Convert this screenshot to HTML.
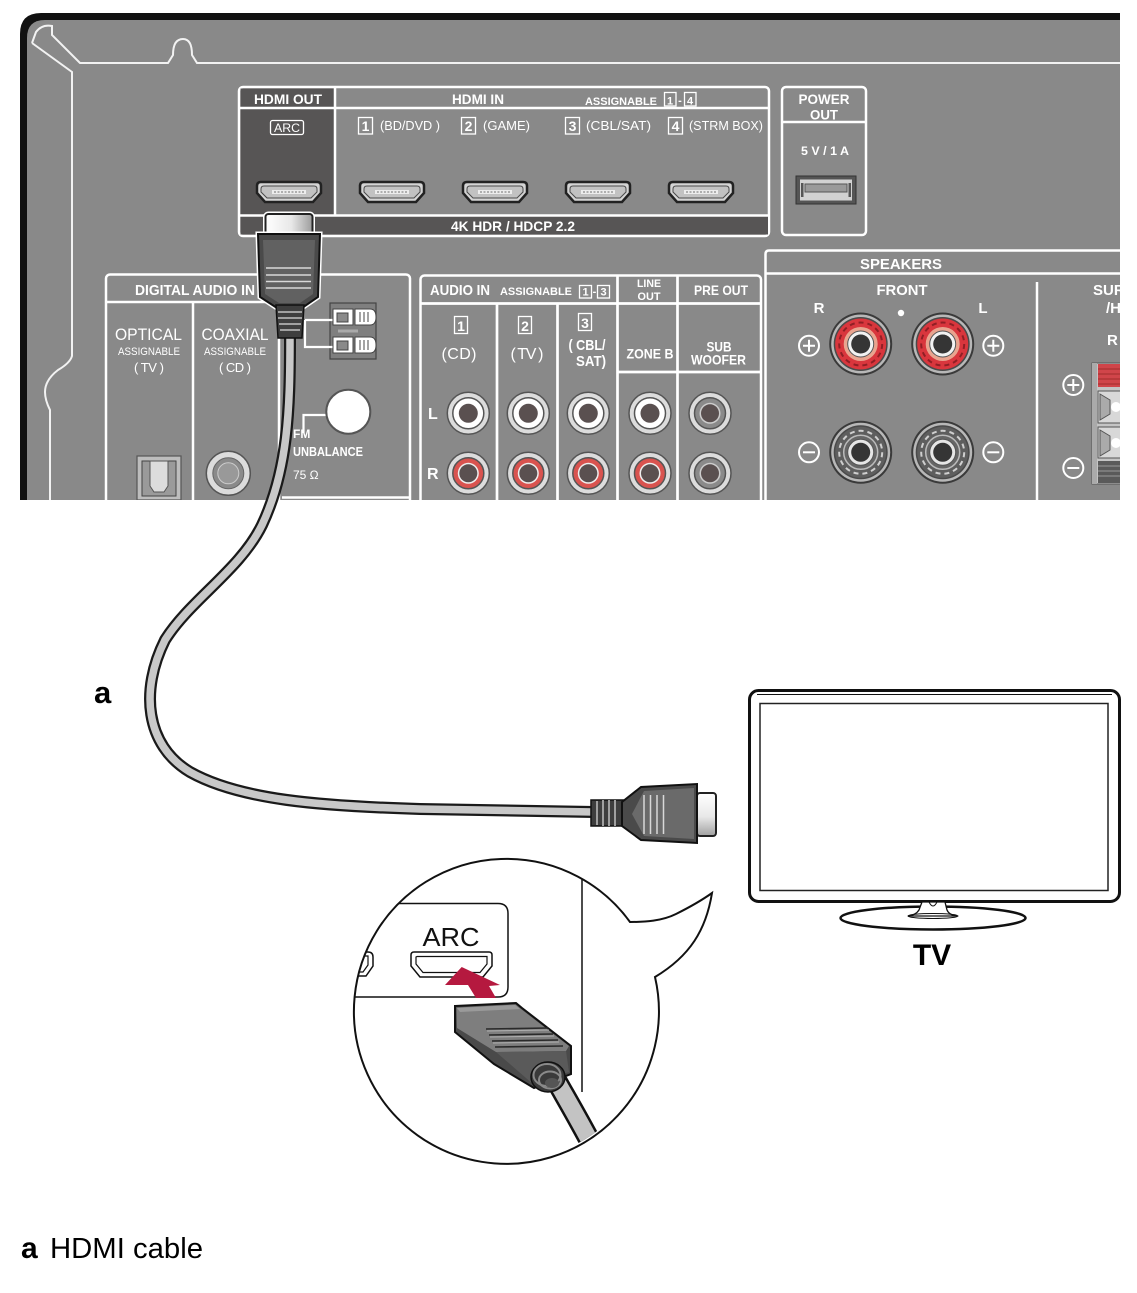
<!DOCTYPE html>
<html><head><meta charset="utf-8">
<style>
html,body{margin:0;padding:0;background:#fff;}
svg{display:block;}
text{font-family:"Liberation Sans",Arial,sans-serif;}
</style></head><body>
<svg width="1137" height="1293" viewBox="0 0 1137 1293" xmlns="http://www.w3.org/2000/svg">
<defs>
<clipPath id="pc"><rect x="0" y="0" width="1120" height="500"/></clipPath>
<clipPath id="cc"><circle cx="506" cy="1010" r="151.5"/></clipPath>
<linearGradient id="metalH" x1="0" y1="0" x2="1" y2="0"><stop offset="0" stop-color="#ffffff"/><stop offset="0.55" stop-color="#e8e8e8"/><stop offset="1" stop-color="#9c9c9c"/></linearGradient>
<linearGradient id="metalV" x1="0" y1="0" x2="0" y2="1"><stop offset="0" stop-color="#ffffff"/><stop offset="0.55" stop-color="#e8e8e8"/><stop offset="1" stop-color="#a0a0a0"/></linearGradient>
<g id="hdmi">
 <path d="M4,0 H60 Q64,0 64,4 V11 L56,20 H8 L0,11 V4 Q0,0 4,0 Z" fill="#d4d4d4" stroke="#222" stroke-width="2.5"/>
 <path d="M7,4 H57 Q60,4 60,7 V10 L54,16 H10 L4,10 V7 Q4,4 7,4 Z" fill="#c2c2c2" stroke="#4a4a4a" stroke-width="1"/>
 <rect x="15" y="8" width="34" height="4" fill="#ededed"/>
 <line x1="17" y1="10" x2="47" y2="10" stroke="#9a9a9a" stroke-width="1.5" stroke-dasharray="2 1.5"/>
</g>
<g id="postR">
 <circle r="31.5" fill="#3a3a3a"/>
 <circle r="29.5" fill="#b8b8b8"/>
 <circle r="27" fill="#4a4a4a"/>
 <circle r="25.5" fill="#d9363d"/>
 <circle r="21.5" fill="none" stroke="#8f1f25" stroke-width="2" stroke-dasharray="5 4"/>
 <circle r="17" fill="#e9a48f"/>
 <circle r="13" fill="#f2f2f2" stroke="#555" stroke-width="1"/>
 <circle r="9.5" fill="#353535"/>
</g>
<g id="postB">
 <circle r="31.5" fill="#3a3a3a"/>
 <circle r="29.5" fill="#b8b8b8"/>
 <circle r="27" fill="#4a4a4a"/>
 <circle r="25.5" fill="#5e5e5e"/>
 <circle r="21.5" fill="none" stroke="#cfcfcf" stroke-width="2" stroke-dasharray="5 4"/>
 <circle r="17" fill="#666" stroke="#bbb" stroke-width="1.5"/>
 <circle r="13" fill="#e6e6e6" stroke="#555" stroke-width="1"/>
 <circle r="9.5" fill="#353535"/>
</g>
<g id="rcaW"><circle r="21" fill="#dcdcdc" stroke="#555" stroke-width="1.5"/><circle r="15.5" fill="#fff" stroke="#555" stroke-width="1.5"/><circle r="9.5" fill="#5a5050"/></g>
<g id="rcaR"><circle r="21" fill="#dcdcdc" stroke="#555" stroke-width="1.5"/><circle r="15.5" fill="#d9534f" stroke="#555" stroke-width="1.5"/><circle r="10.5" fill="#eee"/><circle r="9" fill="#5a5050"/></g>
<g id="rcaG"><circle r="21" fill="#dcdcdc" stroke="#555" stroke-width="1.5"/><circle r="15.5" fill="#8a8a8a" stroke="#555" stroke-width="1.5"/><circle r="10.5" fill="#ccc"/><circle r="9" fill="#5a5050"/></g>
<g id="plus"><circle r="10" fill="none" stroke="#fff" stroke-width="2"/><path d="M-6,0H6M0,-6V6" stroke="#fff" stroke-width="2"/></g>
<g id="minus"><circle r="10" fill="none" stroke="#fff" stroke-width="2"/><path d="M-6,0H6" stroke="#fff" stroke-width="2"/></g>
</defs>

<rect width="1137" height="1293" fill="#fff"/>

<!-- ============ PANEL ============ -->
<g clip-path="url(#pc)">
 <path d="M20,500 V34 Q20,13 41,13 H1120 V500 Z" fill="#111"/>
 <path d="M27,500 V38 Q27,20 45,20 H1120 V500 Z" fill="#898989"/>
 <g fill="none" stroke="#f2f2f2" stroke-width="2">
  <path d="M32,43 L36,32 Q42,24 52,26 L52,35 L80,63 L168,63 L173,55 Q173,39 183,39 Q192,39 192,55 L197,63 L1120,63"/>
  <path d="M32,43 L72,72 L72,356 Q70,363 58,370 Q45,380 45,392 Q45,400 50,410 L50,500"/>
 </g>

 <!-- HDMI box -->
 <rect x="239" y="87" width="530" height="149" rx="4" fill="#898989" stroke="#fff" stroke-width="2.5"/>
 <rect x="240.5" y="88.5" width="94.5" height="127" fill="#575555"/>
 <rect x="240.5" y="216" width="527.5" height="18.5" fill="#575555"/>
 <g stroke="#fff" stroke-width="2.5">
  <line x1="239" y1="108" x2="769" y2="108"/>
  <line x1="335" y1="87" x2="335" y2="216"/>
  <line x1="239" y1="215.5" x2="769" y2="215.5"/>
 </g>
 <g fill="#fff">
  <text x="288" y="104" font-size="14" font-weight="bold" text-anchor="middle" textLength="68" lengthAdjust="spacingAndGlyphs">HDMI OUT</text>
  <text x="478" y="104" font-size="14" font-weight="bold" text-anchor="middle" textLength="52" lengthAdjust="spacingAndGlyphs">HDMI IN</text>
  <text x="585" y="105" font-size="11" font-weight="bold" textLength="72" lengthAdjust="spacingAndGlyphs">ASSIGNABLE</text>
  <text x="670" y="104.5" font-size="11" font-weight="bold" text-anchor="middle">1</text>
  <text x="680" y="104" font-size="11" font-weight="bold" text-anchor="middle">-</text>
  <text x="690" y="104.5" font-size="11" font-weight="bold" text-anchor="middle">4</text>
  <text x="287" y="132" font-size="12" text-anchor="middle" textLength="26" lengthAdjust="spacingAndGlyphs">ARC</text>
  <text x="365.5" y="131" font-size="14" font-weight="bold" text-anchor="middle">1</text>
  <text x="380" y="130" font-size="13" textLength="60" lengthAdjust="spacingAndGlyphs">(BD/DVD )</text>
  <text x="468.5" y="131" font-size="14" font-weight="bold" text-anchor="middle">2</text>
  <text x="483" y="130" font-size="13" textLength="47" lengthAdjust="spacingAndGlyphs">(GAME)</text>
  <text x="572.5" y="131" font-size="14" font-weight="bold" text-anchor="middle">3</text>
  <text x="586" y="130" font-size="13" textLength="65" lengthAdjust="spacingAndGlyphs">(CBL/SAT)</text>
  <text x="675.5" y="131" font-size="14" font-weight="bold" text-anchor="middle">4</text>
  <text x="689" y="130" font-size="13" textLength="74" lengthAdjust="spacingAndGlyphs">(STRM BOX)</text>
  <text x="513" y="231" font-size="14" font-weight="bold" text-anchor="middle" textLength="124" lengthAdjust="spacingAndGlyphs">4K HDR / HDCP 2.2</text>
 </g>
 <g fill="none" stroke="#fff" stroke-width="1.3">
  <rect x="664.5" y="92.5" width="11.5" height="13.5"/>
  <rect x="684.5" y="92.5" width="11.5" height="13.5"/>
  <rect x="270.5" y="120.5" width="33" height="14" rx="2"/>
  <rect x="358.5" y="117.5" width="14" height="16.5"/>
  <rect x="461.5" y="117.5" width="14" height="16.5"/>
  <rect x="565.5" y="117.5" width="14" height="16.5"/>
  <rect x="668.5" y="117.5" width="14" height="16.5"/>
 </g>
 <use href="#hdmi" x="257" y="182"/>
 <use href="#hdmi" x="360" y="182"/>
 <use href="#hdmi" x="463" y="182"/>
 <use href="#hdmi" x="566" y="182"/>
 <use href="#hdmi" x="669" y="182"/>

 <!-- POWER OUT -->
 <rect x="782" y="87" width="84" height="148" rx="4" fill="none" stroke="#fff" stroke-width="2.5"/>
 <line x1="782" y1="122" x2="866" y2="122" stroke="#fff" stroke-width="2.5"/>
 <g fill="#fff" font-weight="bold" text-anchor="middle">
  <text x="824" y="104" font-size="14" textLength="51" lengthAdjust="spacingAndGlyphs">POWER</text>
  <text x="824" y="119.5" font-size="14" textLength="28" lengthAdjust="spacingAndGlyphs">OUT</text>
  <text x="825" y="155" font-size="12" textLength="48" lengthAdjust="spacingAndGlyphs">5 V / 1 A</text>
 </g>
 <rect x="796" y="176" width="60" height="28" fill="#555" stroke="#333" stroke-width="1"/>
 <rect x="800" y="179.5" width="52" height="21" fill="#d2d2d2"/>
 <rect x="805" y="184" width="42" height="8" fill="#9a9a9a" stroke="#555" stroke-width="1"/>
 <rect x="801" y="183" width="2.5" height="14" fill="#555"/>
 <rect x="848.5" y="183" width="2.5" height="14" fill="#555"/>

 <!-- SPEAKERS -->
 <path d="M765.5,500 V254 Q765.5,250.5 769,250.5 H1120" fill="none" stroke="#fff" stroke-width="2.5"/>
 <line x1="766" y1="273.5" x2="1120" y2="273.5" stroke="#fff" stroke-width="2.5"/>
 <line x1="1037" y1="282" x2="1037" y2="500" stroke="#fff" stroke-width="2.5"/>
 <g fill="#fff" font-weight="bold">
  <text x="901" y="269" font-size="15" text-anchor="middle" textLength="82" lengthAdjust="spacingAndGlyphs">SPEAKERS</text>
  <text x="902" y="295" font-size="15" text-anchor="middle" textLength="51" lengthAdjust="spacingAndGlyphs">FRONT</text>
  <text x="819" y="313" font-size="15" text-anchor="middle">R</text>
  <text x="983" y="313" font-size="15" text-anchor="middle">L</text>
  <text x="1093" y="295" font-size="15">SUR</text>
  <text x="1106" y="313" font-size="15">/H</text>
  <text x="1107" y="345" font-size="15">R</text>
 </g>
 <circle cx="901" cy="313" r="3.2" fill="#fff"/>
 <use href="#postR" x="860.7" y="344"/>
 <use href="#postR" x="942.7" y="344"/>
 <use href="#postB" x="860.7" y="452.3"/>
 <use href="#postB" x="942.7" y="452.3"/>
 <use href="#plus" x="809" y="345.7"/>
 <use href="#plus" x="993.3" y="345.7"/>
 <use href="#minus" x="809" y="452.3"/>
 <use href="#minus" x="993.3" y="452.3"/>
 <use href="#plus" x="1073.3" y="385"/>
 <use href="#minus" x="1073.3" y="468"/>
 <rect x="1092" y="363" width="32" height="121" fill="#c4c4c4" stroke="#555" stroke-width="1"/>
 <rect x="1092" y="363" width="5" height="121" fill="#aaa"/>
 <rect x="1098" y="364" width="26" height="23" fill="#d0454a"/>
 <g stroke="#a33" stroke-width="1.2"><line x1="1098" y1="369" x2="1124" y2="369"/><line x1="1098" y1="374" x2="1124" y2="374"/><line x1="1098" y1="379" x2="1124" y2="379"/><line x1="1098" y1="384" x2="1124" y2="384"/></g>
 <rect x="1098" y="391" width="26" height="32" fill="#d8d8d8" stroke="#555"/>
 <path d="M1100,394 L1110,400 V414 L1100,420 Z" fill="#aaa" stroke="#555"/>
 <circle cx="1116" cy="407" r="5" fill="#fff"/>
 <rect x="1098" y="427" width="26" height="31" fill="#d8d8d8" stroke="#555"/>
 <path d="M1100,430 L1110,436 V450 L1100,456 Z" fill="#aaa" stroke="#555"/>
 <circle cx="1116" cy="443" r="5" fill="#fff"/>
 <rect x="1098" y="461" width="26" height="22" fill="#5a5a5a"/>
 <g stroke="#999" stroke-width="1"><line x1="1098" y1="466" x2="1124" y2="466"/><line x1="1098" y1="471" x2="1124" y2="471"/><line x1="1098" y1="476" x2="1124" y2="476"/></g>

 <!-- AUDIO IN -->
 <rect x="420.5" y="275.5" width="340.5" height="240" rx="4" fill="none" stroke="#fff" stroke-width="2.5"/>
 <g stroke="#fff" stroke-width="2.7">
  <line x1="420" y1="303.5" x2="761" y2="303.5"/>
  <line x1="497" y1="303" x2="497" y2="500"/>
  <line x1="557.5" y1="303" x2="557.5" y2="500"/>
  <line x1="617.5" y1="275" x2="617.5" y2="500"/>
  <line x1="677.5" y1="275" x2="677.5" y2="500"/>
  <line x1="617.5" y1="372" x2="761" y2="372"/>
 </g>
 <g fill="#fff">
  <text x="430" y="295" font-size="15" font-weight="bold" textLength="60" lengthAdjust="spacingAndGlyphs">AUDIO IN</text>
  <text x="500" y="295" font-size="11" font-weight="bold" textLength="72" lengthAdjust="spacingAndGlyphs">ASSIGNABLE</text>
  <text x="585.5" y="295.5" font-size="11" font-weight="bold" text-anchor="middle">1</text>
  <text x="594.5" y="295" font-size="11" font-weight="bold" text-anchor="middle">-</text>
  <text x="603.5" y="295.5" font-size="11" font-weight="bold" text-anchor="middle">3</text>
  <text x="649" y="287" font-size="11" font-weight="bold" text-anchor="middle" textLength="24" lengthAdjust="spacingAndGlyphs">LINE</text>
  <text x="649" y="300" font-size="11" font-weight="bold" text-anchor="middle" textLength="23" lengthAdjust="spacingAndGlyphs">OUT</text>
  <text x="721" y="295" font-size="14" font-weight="bold" text-anchor="middle" textLength="54" lengthAdjust="spacingAndGlyphs">PRE OUT</text>
  <text x="461" y="331" font-size="14" font-weight="bold" text-anchor="middle">1</text>
  <text x="525" y="331" font-size="14" font-weight="bold" text-anchor="middle">2</text>
  <text x="585" y="328" font-size="14" font-weight="bold" text-anchor="middle">3</text>
  <text x="459" y="359" font-size="16" text-anchor="middle" textLength="35" lengthAdjust="spacing">(CD)</text>
  <text x="527" y="359" font-size="16" text-anchor="middle" textLength="33" lengthAdjust="spacing">( TV )</text>
  <text x="587" y="350" font-size="15" font-weight="bold" text-anchor="middle" textLength="37" lengthAdjust="spacingAndGlyphs">( CBL/</text>
  <text x="591" y="366" font-size="15" font-weight="bold" text-anchor="middle" textLength="30" lengthAdjust="spacingAndGlyphs">SAT)</text>
  <text x="650" y="358.5" font-size="14" font-weight="bold" text-anchor="middle" textLength="47" lengthAdjust="spacingAndGlyphs">ZONE B</text>
  <text x="719" y="351.5" font-size="14" font-weight="bold" text-anchor="middle" textLength="25" lengthAdjust="spacingAndGlyphs">SUB</text>
  <text x="718.5" y="364.5" font-size="14" font-weight="bold" text-anchor="middle" textLength="55" lengthAdjust="spacingAndGlyphs">WOOFER</text>
  <text x="428" y="419" font-size="16" font-weight="bold">L</text>
  <text x="427" y="479" font-size="16" font-weight="bold">R</text>
 </g>
 <g fill="none" stroke="#fff" stroke-width="1.3">
  <rect x="579.5" y="285.5" width="12" height="12.5"/>
  <rect x="597.5" y="285.5" width="12" height="12.5"/>
  <rect x="454.5" y="316.5" width="13" height="17"/>
  <rect x="518.5" y="316.5" width="13" height="17"/>
  <rect x="578.5" y="313.5" width="13" height="17"/>
 </g>
 <use href="#rcaW" x="468.3" y="413.3"/>
 <use href="#rcaW" x="528.3" y="413.3"/>
 <use href="#rcaW" x="588.3" y="413.3"/>
 <use href="#rcaW" x="650" y="413.3"/>
 <use href="#rcaG" x="710" y="413.3"/>
 <use href="#rcaR" x="468.3" y="473.3"/>
 <use href="#rcaR" x="528.3" y="473.3"/>
 <use href="#rcaR" x="588.3" y="473.3"/>
 <use href="#rcaR" x="650" y="473.3"/>
 <use href="#rcaG" x="710" y="473.3"/>

 <!-- DIGITAL AUDIO IN -->
 <rect x="106" y="274.5" width="304" height="240" rx="4" fill="none" stroke="#fff" stroke-width="2.5"/>
 <g stroke="#fff" stroke-width="2.5">
  <line x1="106" y1="302" x2="282" y2="302"/>
  <line x1="193" y1="302" x2="193" y2="500"/>
  <line x1="279" y1="302" x2="279" y2="500"/>
  <line x1="282" y1="497.5" x2="410" y2="497.5"/>
 </g>
 <g fill="#fff">
  <text x="195" y="295" font-size="15" font-weight="bold" text-anchor="middle" textLength="120" lengthAdjust="spacingAndGlyphs">DIGITAL AUDIO IN</text>
  <text x="148.5" y="340" font-size="17" text-anchor="middle" textLength="67" lengthAdjust="spacingAndGlyphs">OPTICAL</text>
  <text x="149" y="355" font-size="11" text-anchor="middle" textLength="62" lengthAdjust="spacingAndGlyphs">ASSIGNABLE</text>
  <text x="149" y="372" font-size="13" text-anchor="middle" textLength="30" lengthAdjust="spacing">( TV )</text>
  <text x="235" y="340" font-size="17" text-anchor="middle" textLength="67" lengthAdjust="spacingAndGlyphs">COAXIAL</text>
  <text x="235" y="355" font-size="11" text-anchor="middle" textLength="62" lengthAdjust="spacingAndGlyphs">ASSIGNABLE</text>
  <text x="235" y="372" font-size="13" text-anchor="middle" textLength="32" lengthAdjust="spacing">( CD )</text>
  <text x="293" y="438" font-size="12" font-weight="bold">FM</text>
  <text x="293" y="456" font-size="13" font-weight="bold" textLength="70" lengthAdjust="spacingAndGlyphs">UNBALANCE</text>
  <text x="293" y="479" font-size="12">75 Ω</text>
 </g>
 <rect x="137" y="456" width="44" height="44" fill="#bdbdbd" stroke="#555" stroke-width="1.2"/>
 <rect x="142" y="461" width="34" height="35" fill="#9a9a9a" stroke="#444" stroke-width="1"/>
 <path d="M150,461 H168 V486 L164,492 H154 L150,486 Z" fill="#dcdcdc" stroke="#555" stroke-width="1"/>
 <circle cx="228.3" cy="473.3" r="22" fill="#dcdcdc" stroke="#555" stroke-width="1.5"/>
 <circle cx="228.3" cy="473.3" r="15.5" fill="#8a8a8a" stroke="#666" stroke-width="1"/>
 <circle cx="228.3" cy="473.3" r="10.5" fill="#999" stroke="#ccc" stroke-width="1"/>
 <rect x="330" y="303" width="46" height="56" fill="#7f7f7f" stroke="#444" stroke-width="1.2"/>
 <path d="M305,320 H333 M305,320 V347 H333" fill="none" stroke="#fff" stroke-width="2.2"/>
 <rect x="333" y="309" width="20" height="16" fill="#fff" stroke="#444"/>
 <rect x="337" y="313" width="11" height="9" fill="#8a8a8a" stroke="#444"/>
 <path d="M355,309 H370 Q376,309 376,317 Q376,325 370,325 H355 Z" fill="#fff" stroke="#444"/>
 <path d="M360,312V322 M364,312V322 M368,312V322" stroke="#666" stroke-width="1.2"/>
 <rect x="333" y="337" width="20" height="16" fill="#fff" stroke="#444"/>
 <rect x="337" y="341" width="11" height="9" fill="#8a8a8a" stroke="#444"/>
 <path d="M355,337 H370 Q376,337 376,345 Q376,353 370,353 H355 Z" fill="#fff" stroke="#444"/>
 <path d="M360,340V350 M364,340V350 M368,340V350" stroke="#666" stroke-width="1.2"/>
 <rect x="338" y="329.5" width="20" height="3" fill="#aaa"/>
 <path d="M303.5,433 V415 H327" fill="none" stroke="#fff" stroke-width="2.2"/>
 <circle cx="348.3" cy="411.7" r="22" fill="#fff" stroke="#555" stroke-width="2"/>
</g>

<!-- ============ CABLE ============ -->
<path d="M290,338 C290,410 288,470 262,525 C240,570 190,600 165,640 C140,690 145,745 190,772 C240,800 320,806 420,809 L594,812" fill="none" stroke="#1a1a1a" stroke-width="12"/>
<path d="M290,338 C290,410 288,470 262,525 C240,570 190,600 165,640 C140,690 145,745 190,772 C240,800 320,806 420,809 L594,812" fill="none" stroke="#c8c8c8" stroke-width="7.5"/>

<!-- top plug -->
<rect x="265.5" y="214" width="47" height="23" rx="3" fill="none" stroke="#fff" stroke-width="5"/>
<rect x="265.5" y="214" width="47" height="23" rx="3" fill="url(#metalH)" stroke="#222" stroke-width="2"/>
<path d="M258,234 H320 L318,297 L302,308 H277 L260,297 Z" fill="none" stroke="#fff" stroke-width="5"/>
<path d="M258,234 H320 L318,297 L302,308 H277 L260,297 Z" fill="#4a4a4a" stroke="#111" stroke-width="2"/>
<path d="M263,240 H315 L313,294 L300,303 H279 L265,294 Z" fill="#616161"/>
<g stroke="#d8d8d8" stroke-width="1.5">
 <line x1="266" y1="268" x2="311" y2="268"/><line x1="266" y1="275" x2="311" y2="275"/><line x1="266" y1="281.5" x2="311" y2="281.5"/><line x1="266" y1="288" x2="311" y2="288"/>
</g>
<path d="M276,305 H304 L302,338 H278 Z" fill="#3e3e3e" stroke="#111" stroke-width="1.5"/>
<g stroke="#a0a0a0" stroke-width="2"><line x1="278" y1="312" x2="302" y2="312"/><line x1="278" y1="318" x2="302" y2="318"/><line x1="279" y1="324" x2="301" y2="324"/><line x1="280" y1="330" x2="300" y2="330"/></g>

<!-- right plug -->
<path d="M591,800 H627 V826 H591 Z" fill="#3e3e3e" stroke="#111" stroke-width="1.5"/>
<g stroke="#a0a0a0" stroke-width="2"><line x1="597" y1="801" x2="597" y2="825"/><line x1="603" y1="800" x2="603" y2="826"/><line x1="609" y1="800" x2="609" y2="826"/><line x1="615" y1="800" x2="615" y2="826"/></g>
<rect x="697" y="793" width="19" height="43" rx="3" fill="url(#metalV)" stroke="#222" stroke-width="2"/>
<path d="M622,802 L641,787 L697,784 V843 L641,840 L622,826 Z" fill="#4a4a4a" stroke="#111" stroke-width="2"/>
<path d="M644,791 L694,788 V839 L644,836 L632,814 Z" fill="#6a6a6a"/>
<g stroke="#d8d8d8" stroke-width="1.5"><line x1="644" y1="795" x2="644" y2="834"/><line x1="650.5" y1="795" x2="650.5" y2="834"/><line x1="657" y1="795" x2="657" y2="834"/><line x1="663.5" y1="795" x2="663.5" y2="834"/></g>

<text x="94" y="703" font-size="31" font-weight="bold" fill="#000">a</text>

<!-- ============ TV ============ -->
<rect x="749.5" y="690.5" width="370" height="211" rx="9" fill="#fff" stroke="#111" stroke-width="3"/>
<line x1="757" y1="694.5" x2="1112" y2="694.5" stroke="#111" stroke-width="1"/>
<rect x="760" y="703.5" width="348" height="187" fill="#fff" stroke="#222" stroke-width="1.5"/>
<ellipse cx="933" cy="918" rx="92.5" ry="11.5" fill="#fff" stroke="#111" stroke-width="2.5"/>
<path d="M922,902 H945 L947,910 Q949,915 957,916 H908 Q916,915 919,910 Z" fill="#fff" stroke="#111" stroke-width="1.3"/>
<path d="M929,902 Q933,910 937,902" fill="none" stroke="#111" stroke-width="1"/>
<ellipse cx="933" cy="916" rx="25" ry="2.5" fill="none" stroke="#111" stroke-width="1"/>
<text x="932" y="965" font-size="30" font-weight="bold" text-anchor="middle" fill="#000">TV</text>

<!-- ============ INSET ============ -->
<path d="M630,922 C645,922 662,921 676,914 C692,906 705,898 712,893 C706,930 690,956 655,977 A152.5,152.5 0 1 1 630,922 Z" fill="#fff" stroke="#111" stroke-width="2"/>
<g clip-path="url(#cc)">
 <line x1="582" y1="850" x2="582" y2="1092" stroke="#111" stroke-width="1.5"/>
 <path d="M340,903.5 H498 Q508,903.5 508,913.5 V987 Q508,997 498,997 H340" fill="none" stroke="#111" stroke-width="1.5"/>
 <path d="M350,952 H368 Q373,952 373,957 V966 L366,976 H350" fill="none" stroke="#111" stroke-width="1.5"/>
 <path d="M354,956 H368 V965 L363,972 H354" fill="none" stroke="#111" stroke-width="1.2"/>
 <text x="451" y="946" font-size="26" text-anchor="middle" fill="#111" textLength="57" lengthAdjust="spacingAndGlyphs">ARC</text>
 <path d="M414,952 H489 Q492,952 492,955 V966 L483,977 H420 L411,966 V955 Q411,952 414,952 Z" fill="#fff" stroke="#111" stroke-width="1.5"/>
 <path d="M417,956.5 H487 V964 L480,972.5 H423 L416,964 V957 Z" fill="#fff" stroke="#111" stroke-width="1.2"/>
 <polygon points="461.7,967 500,985 489,986 496,998 476,998 468,985 445,985" fill="#b5193f"/>
 <!-- plug -->
 <path d="M557,1082 C570,1105 585,1130 605,1170" fill="none" stroke="#111" stroke-width="22"/>
 <path d="M557,1082 C570,1105 585,1130 605,1170" fill="none" stroke="#c3c3c3" stroke-width="17"/>
 <path d="M455,1006 L516,1003 L522,1008 L571,1046 L571,1074 L534,1088 L494,1064 L455,1032 Z" fill="#4a4a4a" stroke="#111" stroke-width="2"/>
 <path d="M456.5,1007.5 L515.5,1004.5 L521,1009 L569,1046 L566,1051 L496,1052 L457,1028 Z" fill="#7e7e7e"/>
 <path d="M457,1008 L515,1005 L520,1009 L460,1012 Z" fill="#9a9a9a"/>
 <path d="M496,1052 L566,1051 L569,1072 L534,1085 Z" fill="#5a5a5a"/>
 <g stroke="#2a2a2a" stroke-width="1.6">
  <line x1="486" y1="1029" x2="548" y2="1028"/>
  <line x1="489" y1="1035" x2="553" y2="1034"/>
  <line x1="492" y1="1041" x2="558" y2="1040"/>
  <line x1="495" y1="1047" x2="563" y2="1046"/>
 </g>
 <g stroke="#b0b0b0" stroke-width="1"><line x1="487" y1="1031" x2="549" y2="1030"/><line x1="490" y1="1037" x2="554" y2="1036"/><line x1="493" y1="1043" x2="559" y2="1042"/></g>
 <ellipse cx="548" cy="1077" rx="17" ry="15" fill="#3a3a3a" stroke="#111" stroke-width="1.5"/>
 <g fill="none" stroke="#8a8a8a" stroke-width="2"><ellipse cx="547" cy="1075" rx="13.5" ry="11"/><ellipse cx="550" cy="1080" rx="11" ry="8.5"/></g>
 <ellipse cx="552" cy="1083" rx="7" ry="5" fill="#555"/>
</g>

<!-- caption -->
<text x="21" y="1258" font-size="30" font-weight="bold" fill="#000">a</text>
<text x="50" y="1258" font-size="29" fill="#000" textLength="153" lengthAdjust="spacingAndGlyphs">HDMI cable</text>
</svg>
</body></html>
